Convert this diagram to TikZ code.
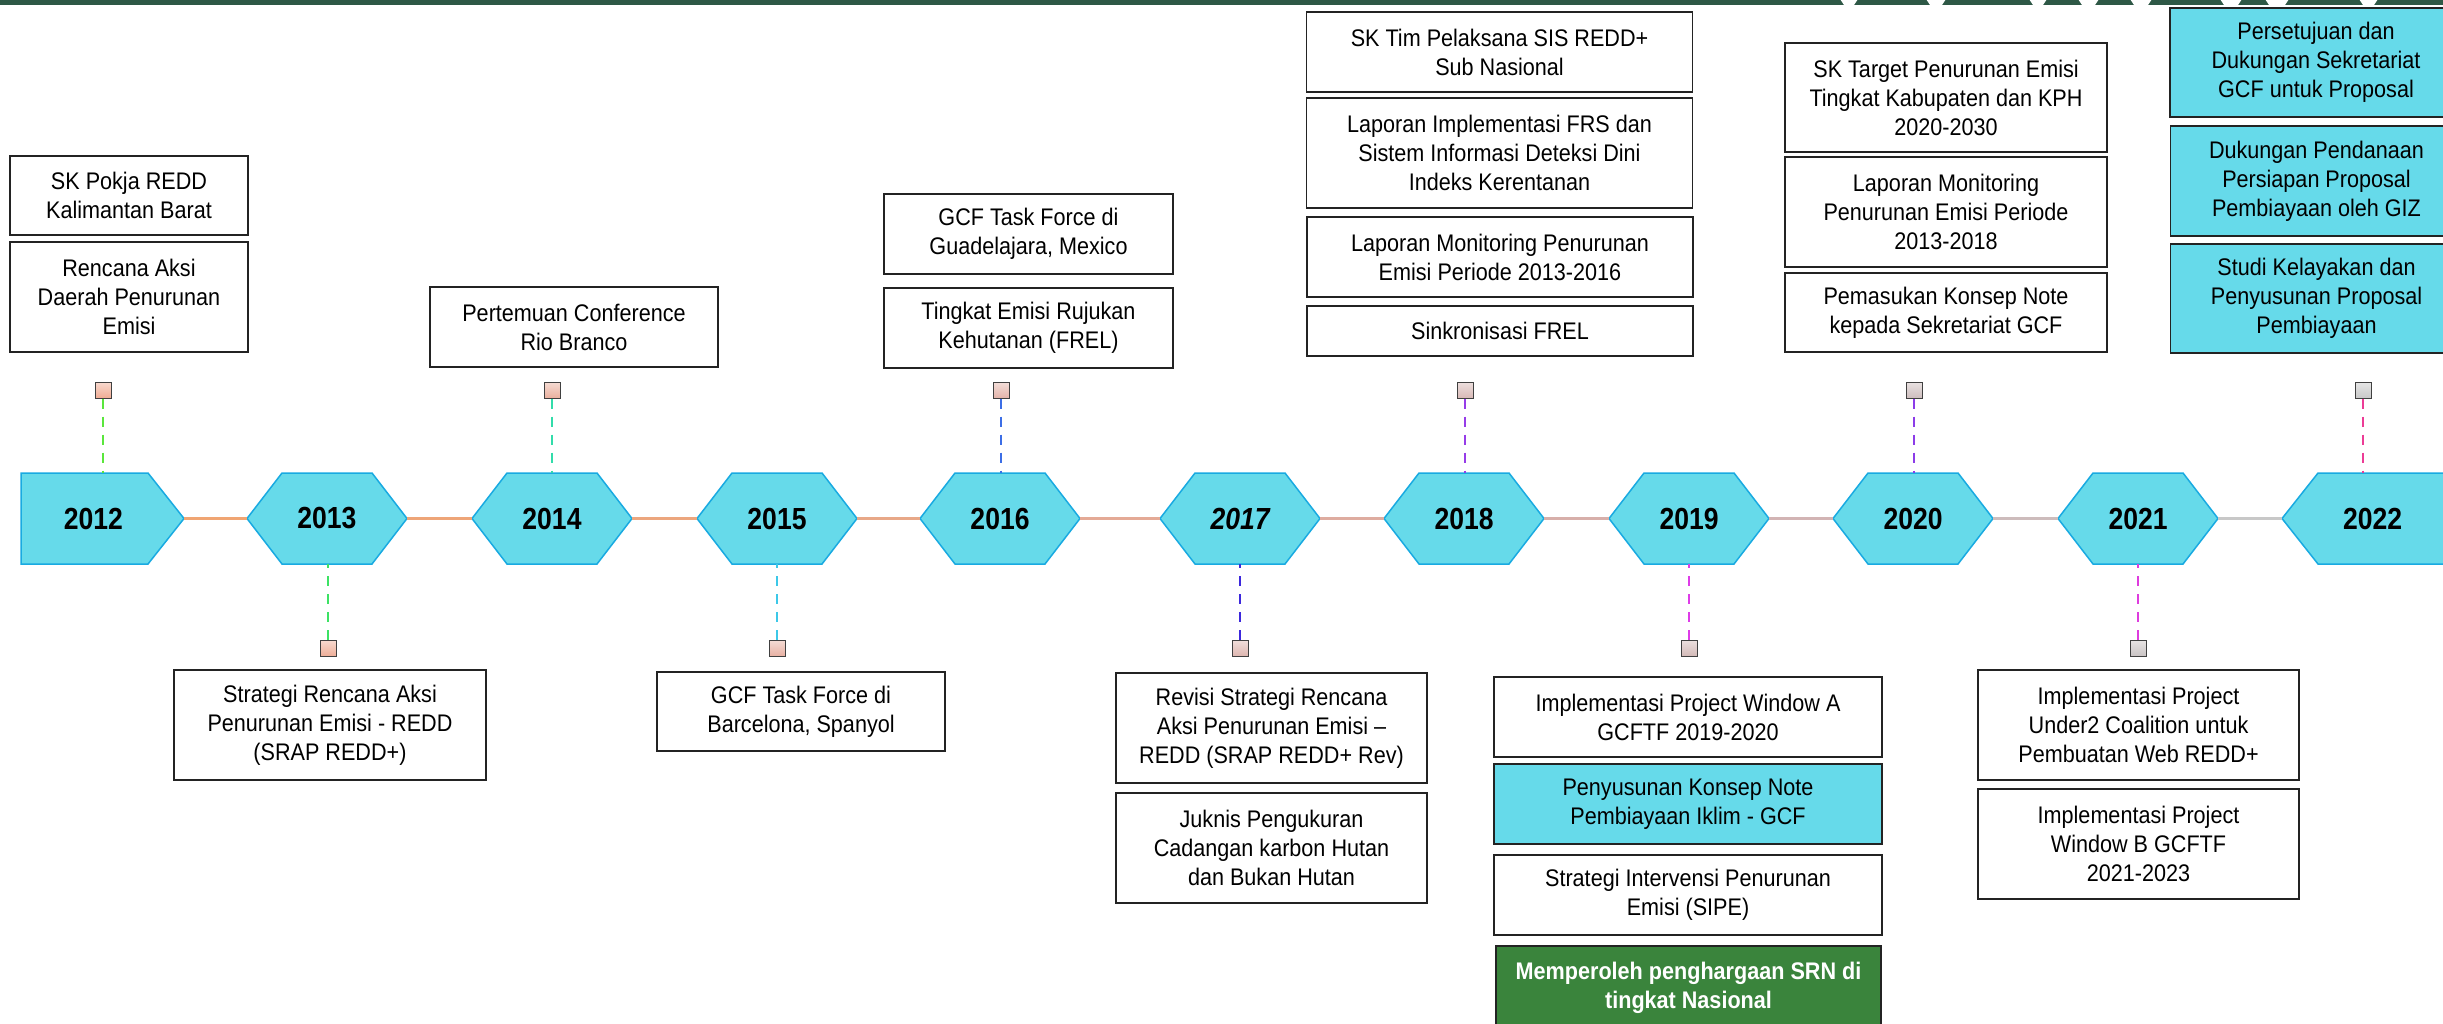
\documentclass[tikz,border=0pt]{standalone}
\usepackage{fontspec}
\setmainfont{Liberation Sans}[FakeStretch=0.9]
\newfontfamily\yearfont{Liberation Sans}[FakeStretch=0.87]
\definecolor{hexfill}{RGB}{102,218,234}
\definecolor{hexline}{RGB}{25,170,225}
\definecolor{srngreen}{RGB}{58,132,60}
\definecolor{barcol}{RGB}{46,88,70}
\definecolor{boxline}{RGB}{35,35,35}
% connectors
\definecolor{ca}{RGB}{240,165,115}
\definecolor{cb}{RGB}{238,165,120}
\definecolor{cc}{RGB}{236,166,126}
\definecolor{cd}{RGB}{232,168,136}
\definecolor{ce}{RGB}{228,170,150}
\definecolor{cf}{RGB}{222,172,160}
\definecolor{cg}{RGB}{215,175,170}
\definecolor{ch}{RGB}{210,180,180}
\definecolor{ci}{RGB}{205,188,188}
\definecolor{cj}{RGB}{200,200,200}
% markers
\definecolor{mA}{RGB}{240,172,148}
\definecolor{mB}{RGB}{238,174,152}
\definecolor{mC}{RGB}{234,176,158}
\definecolor{mD}{RGB}{232,177,163}
\definecolor{mE}{RGB}{228,180,170}
\definecolor{mF}{RGB}{222,182,176}
\definecolor{mG}{RGB}{216,185,182}
\definecolor{mH}{RGB}{212,186,184}
\definecolor{mI}{RGB}{206,190,190}
\definecolor{mJ}{RGB}{202,196,196}
\definecolor{mK}{RGB}{200,200,200}
% dashed lines
\definecolor{dA}{RGB}{90,230,60}
\definecolor{dB}{RGB}{60,226,100}
\definecolor{dC}{RGB}{50,220,170}
\definecolor{dD}{RGB}{60,200,232}
\definecolor{dE}{RGB}{60,110,230}
\definecolor{dF}{RGB}{60,40,220}
\definecolor{dG}{RGB}{150,60,232}
\definecolor{dH}{RGB}{222,60,232}
\definecolor{dI}{RGB}{140,60,232}
\definecolor{dJ}{RGB}{222,60,222}
\definecolor{dK}{RGB}{236,60,150}
\newcommand\myyearhex[3]{%
  \filldraw[hexsty] (#2-80,518.5) -- (#2-45,473) -- (#2+45,473) -- (#2+80,518.5) -- (#2+45,564) -- (#2-45,564) -- cycle;
  \node[yr] (#1) at (#2,518.5) {#3};}
\begin{document}
\begin{tikzpicture}[x=1pt,y=-1pt,
  evbox/.style={draw=boxline, line width=1.4pt, fill=white, align=center, inner sep=0pt,
    font=\fontsize{24}{29}\selectfont, text=black},
  cyanbox/.style={evbox, fill=hexfill},
  greenbox/.style={evbox, fill=srngreen, text=white, font=\bfseries\fontsize{24}{29}\selectfont},
  hexsty/.style={fill=hexfill, draw=hexline, line width=1.5pt, line join=miter},
  yr/.style={font=\yearfont\bfseries\fontsize{30.5}{36}\selectfont, minimum width=160pt,
    minimum height=91pt, inner sep=0pt, text=black},
  marker/.style={draw=black!75, line width=1pt, minimum size=16pt, inner sep=0pt},
  vline/.style={dash pattern=on 10pt off 8pt, line width=2.6pt},
  conn/.style={line width=2.2pt}]
\useasboundingbox (0,0) rectangle (2443,1023);
\clip (0,0) rectangle (2443,1023);
\fill[white] (0,0) rectangle (2443,1023);
% top bar
\fill[barcol] (0,0) rectangle (2443,4.5);
\foreach \a/\b in {1842/1856,1928/1944,2031/2045,2080/2097,2132/2150,2222/2240,2267/2287,2361/2376}
  \fill[white] (\a-2,-1) -- (\b+2,-1) -- (\b-2,5) -- (\a+2,5) -- cycle;

% year shapes
\filldraw[hexsty] (21,473) -- (148,473) -- (184,518.5) -- (148,564) -- (21,564) -- cycle;
\node[yr, minimum width=163pt] (y2012) at (102.5,518.5) {\hspace*{-18pt}2012};
\myyearhex{y2013}{327}{2013}
\myyearhex{y2014}{552}{2014}
\myyearhex{y2015}{777}{2015}
\myyearhex{y2016}{1000}{2016}
\myyearhex{y2017}{1240}{\itshape 2017}
\myyearhex{y2018}{1464}{2018}
\myyearhex{y2019}{1689}{2019}
\myyearhex{y2020}{1913}{2020}
\myyearhex{y2021}{2138}{2021}
\filldraw[hexsty] (2282,518.5) -- (2318,473) -- (2452,473) -- (2452,564) -- (2318,564) -- cycle;
\node[yr, minimum width=163pt] (y2022) at (2363.5,518.5) {2022\hspace*{-18pt}};

% connectors between years
\draw[conn, ca] (y2012.east) -- (y2013.west);
\draw[conn, cb] (y2013.east) -- (y2014.west);
\draw[conn, cc] (y2014.east) -- (y2015.west);
\draw[conn, cd] (y2015.east) -- (y2016.west);
\draw[conn, ce] (y2016.east) -- (y2017.west);
\draw[conn, cf] (y2017.east) -- (y2018.west);
\draw[conn, cg] (y2018.east) -- (y2019.west);
\draw[conn, ch] (y2019.east) -- (y2020.west);
\draw[conn, ci] (y2020.east) -- (y2021.west);
\draw[conn, cj] (y2021.east) -- (y2022.west);

% markers
\node[marker, top color=mA!45!white, bottom color=mA] (m2012) at (103,390) {};
\node[marker, top color=mB!45!white, bottom color=mB] (m2013) at (328,648) {};
\node[marker, top color=mC!45!white, bottom color=mC] (m2014) at (552,390) {};
\node[marker, top color=mD!45!white, bottom color=mD] (m2015) at (777,648) {};
\node[marker, top color=mE!45!white, bottom color=mE] (m2016) at (1001,390) {};
\node[marker, top color=mF!45!white, bottom color=mF] (m2017) at (1240,648) {};
\node[marker, top color=mG!45!white, bottom color=mG] (m2018) at (1465,390) {};
\node[marker, top color=mH!45!white, bottom color=mH] (m2019) at (1689,648) {};
\node[marker, top color=mI!45!white, bottom color=mI] (m2020) at (1914,390) {};
\node[marker, top color=mJ!45!white, bottom color=mJ] (m2021) at (2138,648) {};
\node[marker, top color=mK!45!white, bottom color=mK] (m2022) at (2363,390) {};

% dashed drop lines
\draw[vline, dA] (m2012.south) -- (m2012.south |- y2012.north);
\draw[vline, dB] (m2013.north) -- (m2013.north |- y2013.south);
\draw[vline, dC] (m2014.south) -- (m2014.south |- y2014.north);
\draw[vline, dD] (m2015.north) -- (m2015.north |- y2015.south);
\draw[vline, dE] (m2016.south) -- (m2016.south |- y2016.north);
\draw[vline, dF] (m2017.north) -- (m2017.north |- y2017.south);
\draw[vline, dG] (m2018.south) -- (m2018.south |- y2018.north);
\draw[vline, dH] (m2019.north) -- (m2019.north |- y2019.south);
\draw[vline, dI] (m2020.south) -- (m2020.south |- y2020.north);
\draw[vline, dJ] (m2021.north) -- (m2021.north |- y2021.south);
\draw[vline, dK] (m2022.south) -- (m2022.south |- y2022.north);

% event boxes above
\node[evbox, minimum width=238pt, minimum height=79pt] (e2012a) at (129,195.5) {SK Pokja REDD\\Kalimantan Barat};
\node[evbox, minimum width=238pt, minimum height=110pt] (e2012b) at (129,297) {Rencana Aksi\\Daerah Penurunan\\Emisi};
\node[evbox, minimum width=288pt, minimum height=80pt] (e2014) at (574,327) {Pertemuan Conference\\Rio Branco};
\node[evbox, minimum width=289pt, minimum height=80pt] (e2016a) at (1028.5,234) {GCF Task Force di\\Guadelajara, Mexico};
\node[evbox, minimum width=289pt, minimum height=80pt] (e2016b) at (1028.5,328) {Tingkat Emisi Rujukan\\Kehutanan (FREL)};
\node[evbox, minimum width=386pt, minimum height=80pt] (e2018a) at (1499.5,52) {SK Tim Pelaksana SIS REDD+\\Sub Nasional};
\node[evbox, minimum width=386pt, minimum height=110pt] (e2018b) at (1499.5,153) {Laporan Implementasi FRS dan\\Sistem Informasi Deteksi Dini\\Indeks Kerentanan};
\node[evbox, minimum width=386pt, minimum height=80pt] (e2018c) at (1500,257) {Laporan Monitoring Penurunan\\Emisi Periode 2013-2016};
\node[evbox, minimum width=386pt, minimum height=50pt] (e2018d) at (1500,331) {Sinkronisasi FREL};
\node[evbox, minimum width=322pt, minimum height=109pt] (e2020a) at (1946,97.5) {SK Target Penurunan Emisi\\Tingkat Kabupaten dan KPH\\2020-2030};
\node[evbox, minimum width=322pt, minimum height=110pt] (e2020b) at (1946,212) {Laporan Monitoring\\Penurunan Emisi Periode\\2013-2018};
\node[evbox, minimum width=322pt, minimum height=79pt] (e2020c) at (1946,312.5) {Pemasukan Konsep Note\\kepada Sekretariat GCF};
\node[cyanbox, minimum width=292pt, minimum height=109pt] (e2022a) at (2316,62.5) {Persetujuan dan\\Dukungan Sekretariat\\GCF untuk Proposal};
\node[cyanbox, minimum width=292pt, minimum height=110pt] (e2022b) at (2316.5,181) {Dukungan Pendanaan\\Persiapan Proposal\\Pembiayaan oleh GIZ};
\node[cyanbox, minimum width=292pt, minimum height=109pt] (e2022c) at (2316.5,298.5) {Studi Kelayakan dan\\Penyusunan Proposal\\Pembiayaan};

% event boxes below
\node[evbox, minimum width=312pt, minimum height=110pt] (e2013) at (330,725) {Strategi Rencana Aksi\\Penurunan Emisi - REDD\\(SRAP REDD+)};
\node[evbox, minimum width=288pt, minimum height=79pt] (e2015) at (801,711.5) {GCF Task Force di\\Barcelona, Spanyol};
\node[evbox, minimum width=311pt, minimum height=110pt] (e2017a) at (1271.5,728) {Revisi Strategi Rencana\\Aksi Penurunan Emisi --\\REDD (SRAP REDD+ Rev)};
\node[evbox, minimum width=311pt, minimum height=110pt] (e2017b) at (1271.5,848) {Juknis Pengukuran\\Cadangan karbon Hutan\\dan Bukan Hutan};
\node[evbox, minimum width=388pt, minimum height=80pt] (e2019a) at (1688,717) {Implementasi Project Window A\\GCFTF 2019-2020};
\node[cyanbox, minimum width=388pt, minimum height=80pt] (e2019b) at (1688,804) {Penyusunan Konsep Note\\Pembiayaan Iklim - GCF};
\node[evbox, minimum width=388pt, minimum height=80pt] (e2019c) at (1688,895) {Strategi Intervensi Penurunan\\Emisi (SIPE)};
\node[greenbox, minimum width=385pt, minimum height=84pt] (e2019d) at (1688.5,988) {Memperoleh penghargaan SRN di\\tingkat Nasional};
\node[evbox, minimum width=321pt, minimum height=110pt] (e2021a) at (2138.5,725) {Implementasi Project\\Under2 Coalition untuk\\Pembuatan Web REDD+};
\node[evbox, minimum width=321pt, minimum height=110pt] (e2021b) at (2138.5,844) {Implementasi Project\\Window B GCFTF\\2021-2023};
\end{tikzpicture}
\end{document}
